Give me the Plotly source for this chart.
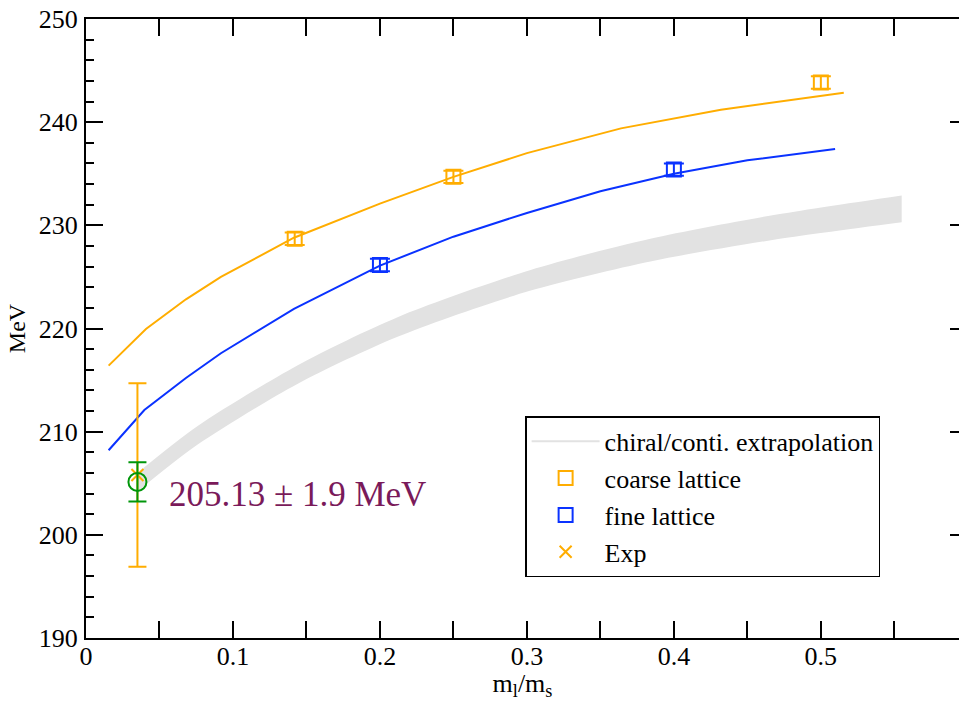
import plotly.graph_objects as go

# ---------------- data ----------------
coarse_x = [0.142, 0.25, 0.5]
coarse_y = [228.7, 234.7, 243.85]
coarse_err = [0.6, 0.6, 0.6]

fine_x = [0.2, 0.4]
fine_y = [226.15, 235.4]
fine_err = [0.6, 0.6]

coarse_fit_x = [0.0154, 0.0408, 0.068, 0.0918, 0.1415, 0.2, 0.25, 0.3, 0.364, 0.432, 0.5156]
coarse_fit_y = [216.4, 219.95, 222.83, 225.0, 228.8, 232.1, 234.7, 237.0, 239.4, 241.2, 242.85]

fine_fit_x = [0.0154, 0.0397, 0.068, 0.0918, 0.1415, 0.2, 0.25, 0.3, 0.35, 0.4, 0.45, 0.5097]
fine_fit_y = [208.2, 212.1, 215.2, 217.6, 221.9, 226.1, 228.9, 231.2, 233.3, 235.0, 236.3, 237.4]

band_x = [0.035, 0.0755, 0.1435, 0.212, 0.302, 0.384, 0.468, 0.555]
band_upper = [206.0, 210.5, 216.4, 221.1, 225.65, 228.7, 231.0, 232.9]
band_lower = [204.2, 208.7, 214.6, 219.2, 223.65, 226.5, 228.6, 230.3]

exp_x = [0.035]
exp_y = [205.8]
exp_err = [8.9]

result_x = [0.035]
result_y = [205.13]
result_err = [1.9]

x_tickvals = [0.0, 0.05, 0.1, 0.15, 0.2, 0.25, 0.3, 0.35, 0.4, 0.45, 0.5, 0.55]
x_ticktext = ["0", "", "0.1", "", "0.2", "", "0.3", "", "0.4", "", "0.5", ""]

ORANGE = "#ffad00"
BLUE = "#0a32ff"
GREEN = "#00960a"
GRAY = "#e2e2e2"
PURPLE = "#7a1a5a"
FONT = "Liberation Serif"

fig = go.Figure()

# band
fig.add_trace(go.Scatter(x=band_x, y=band_lower, mode="lines",
                         line=dict(width=0, shape="spline", smoothing=0.8, color=GRAY),
                         showlegend=False, hoverinfo="skip"))
fig.add_trace(go.Scatter(x=band_x, y=band_upper, mode="lines",
                         line=dict(width=0, shape="spline", smoothing=0.8, color=GRAY),
                         fill="tonexty", fillcolor=GRAY, showlegend=False, hoverinfo="skip"))
# legend entry for band
fig.add_trace(go.Scatter(x=[None], y=[None], mode="lines", line=dict(width=2, color=GRAY),
                         name="chiral/conti. extrapolation"))

# fit lines
fig.add_trace(go.Scatter(x=coarse_fit_x, y=coarse_fit_y, mode="lines", line=dict(width=2, color=ORANGE),
                         showlegend=False))
fig.add_trace(go.Scatter(x=fine_fit_x, y=fine_fit_y, mode="lines", line=dict(width=2, color=BLUE),
                         showlegend=False))

# data points
fig.add_trace(go.Scatter(x=coarse_x, y=coarse_y, mode="markers", name="coarse lattice",
                         marker=dict(symbol="square-open", size=14, color=ORANGE, line=dict(width=2, color=ORANGE)),
                         error_y=dict(type="data", array=coarse_err, color=ORANGE, thickness=2, width=10)))
fig.add_trace(go.Scatter(x=fine_x, y=fine_y, mode="markers", name="fine lattice",
                         marker=dict(symbol="square-open", size=14, color=BLUE, line=dict(width=2, color=BLUE)),
                         error_y=dict(type="data", array=fine_err, color=BLUE, thickness=2, width=10)))
fig.add_trace(go.Scatter(x=exp_x, y=exp_y, mode="markers", name="Exp",
                         marker=dict(symbol="x-thin-open", size=12, color=ORANGE, line=dict(width=2, color=ORANGE)),
                         error_y=dict(type="data", array=exp_err, color=ORANGE, thickness=2, width=9)))
fig.add_trace(go.Scatter(x=result_x, y=result_y, mode="markers", showlegend=False,
                         marker=dict(symbol="circle-open", size=18, color=GREEN, line=dict(width=2, color=GREEN)),
                         error_y=dict(type="data", array=result_err, color=GREEN, thickness=2, width=9)))

# invisible trace for right axis ticks
fig.add_trace(go.Scatter(x=[None], y=[None], yaxis="y2", showlegend=False))

fig.add_annotation(x=0.055, y=203.9, xref="x", yref="y", xanchor="left", yanchor="middle",
                   text=f"{result_y[0]:.2f} ± {result_err[0]} MeV", showarrow=False,
                   font=dict(family=FONT, size=35, color=PURPLE))

fig.update_layout(
    width=959, height=701,
    margin=dict(l=86, r=0, t=19, b=63),
    paper_bgcolor="white", plot_bgcolor="white",
    font=dict(family=FONT, size=26, color="black"),
    xaxis=dict(range=[0, 0.594], tickvals=x_tickvals, ticktext=x_ticktext,
               ticks="inside", ticklen=17, tickwidth=1.5, tickcolor="black",
               showline=True, linecolor="black", linewidth=2, mirror="ticks",
               showgrid=False, zeroline=False, ticklabelstandoff=-6,
               tickfont=dict(family=FONT, size=26),
               title=dict(text="m<sub>l</sub>/m<sub>s</sub>", font=dict(family=FONT, size=26), standoff=8)),
    yaxis=dict(range=[190, 250], dtick=10, tick0=190,
               ticks="inside", ticklen=17, tickwidth=1.5, tickcolor="black",
               minor=dict(dtick=2, ticks="inside", ticklen=8, tickwidth=1.5, tickcolor="black"),
               showline=True, linecolor="black", linewidth=2,
               showgrid=False, zeroline=False, ticklabelstandoff=1,
               tickfont=dict(family=FONT, size=26),
               title=dict(text="MeV", font=dict(family=FONT, size=24), standoff=6)),
    yaxis2=dict(range=[190, 250], dtick=10, tick0=190, overlaying="y", side="right",
                ticks="inside", ticklen=9, tickwidth=1.5, tickcolor="black",
                showline=False, showgrid=False, zeroline=False, showticklabels=False),
    legend=dict(x=0.503, y=0.358, xanchor="left", yanchor="top", traceorder="normal",
                bgcolor="white", bordercolor="black", borderwidth=1.5,
                font=dict(family=FONT, size=26), itemwidth=68, tracegroupgap=0),
    showlegend=True,
)

fig.write_html("out.html")
